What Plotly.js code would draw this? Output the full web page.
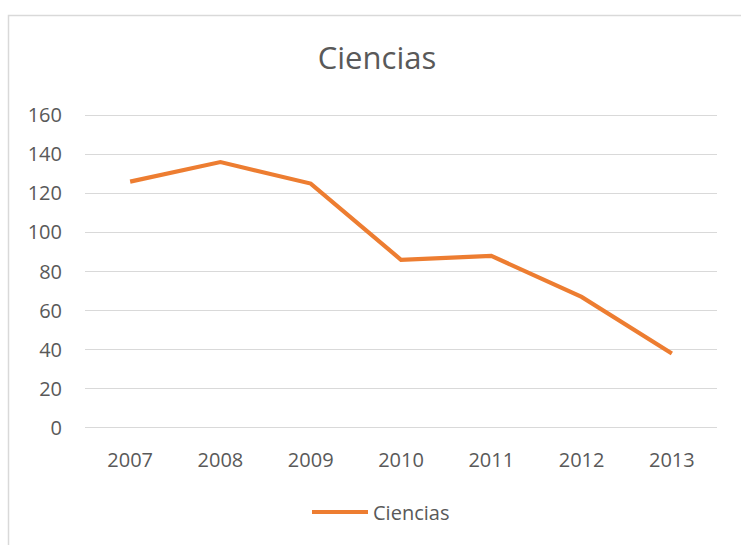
<!DOCTYPE html>
<html>
<head>
<meta charset="utf-8">
<script src="https://cdn.plot.ly/plotly-3.0.1.min.js"></script>
<style>html,body{margin:0;padding:0;background:#fff;}#chart{width:741px;height:545px;}</style>
</head>
<body>
<div id="chart"></div>
<script>
var years = ["2007", "2008", "2009", "2010", "2011", "2012", "2013"];
var ciencias = [126, 136, 125, 86, 88, 67, 38];
var yTicks = [0, 20, 40, 60, 80, 100, 120, 140, 160];
var seriesName = "Ciencias";
var chartTitle = "Ciencias";

var FONT = "Open Sans, Noto Sans, sans-serif";
var TXT = "#595959";

var trace = {
  x: years,
  y: ciencias,
  type: "scatter",
  mode: "lines",
  name: seriesName,
  line: {color: "#ED7D31", width: 4.2, shape: "linear"},
  hoverinfo: "x+y"
};

var layout = {
  width: 741,
  height: 545,
  paper_bgcolor: "#ffffff",
  plot_bgcolor: "#ffffff",
  margin: {l: 85, r: 24, t: 114, b: 116, pad: 0},
  title: {
    text: chartTitle,
    font: {family: FONT, size: 31, color: TXT},
    xref: "container", x: 377 / 741, xanchor: "center",
    yref: "container", y: 1 - 58 / 545, yanchor: "middle"
  },
  xaxis: {
    type: "category",
    categoryorder: "array",
    categoryarray: years,
    range: [-0.5, 6.5],
    showgrid: false,
    zeroline: false,
    showline: false,
    ticks: "",
    ticklabelstandoff: 17,
    tickfont: {family: FONT, size: 20, color: TXT},
    fixedrange: true
  },
  yaxis: {
    range: [-0.6, 160.6],
    tickvals: yTicks,
    ticktext: yTicks.map(String),
    showgrid: true,
    gridcolor: "#D9D9D9",
    gridwidth: 1.3,
    zeroline: false,
    showline: false,
    ticks: "",
    ticklabelstandoff: 22,
    tickfont: {family: FONT, size: 20, color: TXT},
    fixedrange: true
  },
  showlegend: true,
  legend: {
    orientation: "h",
    xref: "container", x: 381 / 741, xanchor: "center",
    yref: "container", y: 1 - 512 / 545, yanchor: "middle",
    font: {family: FONT, size: 20, color: TXT},
    itemwidth: 56,
    bgcolor: "rgba(0,0,0,0)"
  },
  shapes: [{
    type: "rect",
    xref: "paper", yref: "paper",
    x0: (8.5 - 85) / 632, x1: (760 - 85) / 632,
    y0: (429 - 570) / 315, y1: (429 - 15.5) / 315,
    line: {color: "#D9D9D9", width: 1.5},
    fillcolor: "rgba(0,0,0,0)",
    layer: "below"
  }]
};

Plotly.newPlot("chart", [trace], layout, {displayModeBar: false, staticPlot: true});
</script>
</body>
</html>
